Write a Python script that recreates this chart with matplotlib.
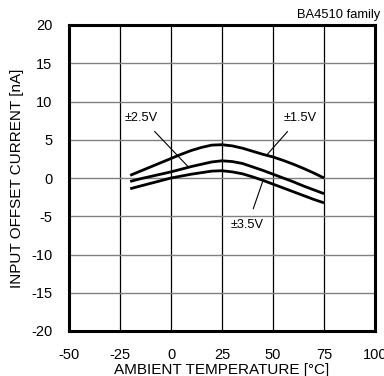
import matplotlib
matplotlib.use("Agg")
import matplotlib.pyplot as plt

plt.rcParams["font.family"] = ["Liberation Sans", "DejaVu Sans"]
plt.rcParams["axes.unicode_minus"] = False

# ambient temperature [degC]
temp = [-20, -15, -10, -5, 0, 5, 10, 15, 20, 25,
        30, 35, 40, 45, 50, 55, 60, 65, 70, 75]

# input offset current [nA] for each supply voltage
ios_15v = [0.35, 0.9, 1.45, 2.0, 2.55, 3.1, 3.6, 4.0, 4.3, 4.35,
           4.2, 3.9, 3.5, 3.1, 2.75, 2.3, 1.8, 1.25, 0.65, 0.0]
ios_25v = [-0.45, -0.1, 0.2, 0.5, 0.8, 1.15, 1.5, 1.8, 2.1, 2.25,
           2.15, 1.9, 1.45, 1.0, 0.5, 0.0, -0.5, -1.05, -1.55, -2.05]
ios_35v = [-1.4, -1.05, -0.7, -0.35, 0.0, 0.25, 0.5, 0.7, 0.9, 0.95,
           0.8, 0.55, 0.15, -0.3, -0.8, -1.3, -1.8, -2.3, -2.8, -3.25]

xticks = [-50, -25, 0, 25, 50, 75, 100]
yticks = [-20, -15, -10, -5, 0, 5, 10, 15, 20]

fig = plt.figure(figsize=(3.84, 3.76), dpi=100)
ax = fig.add_axes([69 / 384, 45 / 376, 306 / 384, 306 / 376])

for x in xticks[1:-1]:
    ax.axvline(x, color="black", lw=0.9, zorder=1)
for y in yticks[1:-1]:
    ax.axhline(y, color="#808080", lw=1.0, zorder=1)

for series in (ios_15v, ios_25v, ios_35v):
    ax.plot(temp, series, color="black", lw=2.0, zorder=3,
            solid_capstyle="butt")

# labels with leader lines
arrow = dict(arrowstyle="-", lw=0.8, color="black", shrinkB=0)
ax.annotate("±2.5V", xy=(8.5, 1.45), xytext=(-14.5, 7.9), fontsize=9.2,
            ha="center", va="center", arrowprops=dict(arrow, shrinkA=5))
ax.annotate("±1.5V", xy=(46.9, 3.0), xytext=(63.2, 7.9), fontsize=9.2,
            ha="center", va="center", arrowprops=dict(arrow, shrinkA=5))
ax.annotate("±3.5V", xy=(45.2, -0.25), xytext=(37.5, -6.2), fontsize=9.2,
            ha="center", va="center", arrowprops=dict(arrow, shrinkA=6))

ax.set_xlim(-50, 100)
ax.set_ylim(-20, 20)
ax.set_xticks(xticks)
ax.set_yticks(yticks)
ax.tick_params(length=0, labelsize=10.5, pad=12)

for s in ax.spines.values():
    s.set_linewidth(2.2)
    s.set_zorder(4)

ax.set_xlabel("AMBIENT TEMPERATURE [°C]", fontsize=11, labelpad=1)
ax.set_ylabel("INPUT OFFSET CURRENT [nA]", fontsize=11, labelpad=5)

fig.text(380 / 384, 1 - 15 / 376, "BA4510 family", fontsize=9.3,
         ha="right", va="center")

fig.savefig("out.png", dpi=100)
